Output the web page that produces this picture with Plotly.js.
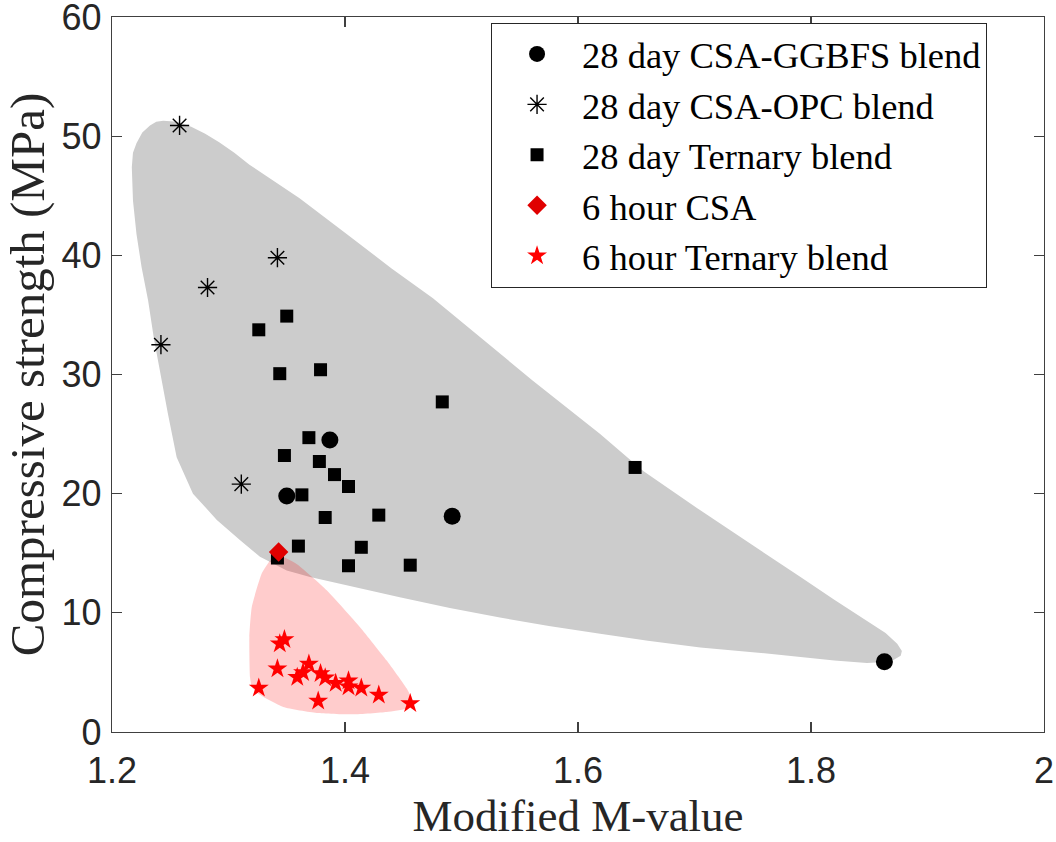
<!DOCTYPE html>
<html>
<head>
<meta charset="utf-8">
<script src="https://cdn.plot.ly/plotly-3.0.1.min.js"></script>
<style>html,body{margin:0;padding:0;background:#fff;}#chart{width:1056px;height:842px;}</style>
</head>
<body>
<div id="chart"></div>
<script>
// ---- data ----
const ggbfsX = [1.387, 1.350, 1.492, 1.863];
const ggbfsY = [24.5, 19.8, 18.1, 5.9];

const opcX = [1.258, 1.342, 1.282, 1.242, 1.311];
const opcY = [50.9, 39.8, 37.3, 32.5, 20.8];

const ternX = [1.350, 1.326, 1.344, 1.379, 1.4835, 1.369, 1.348, 1.378, 1.391, 1.403, 1.363, 1.383, 1.429, 1.360, 1.414, 1.403, 1.456, 1.342, 1.649];
const ternY = [34.9, 33.75, 30.07, 30.4, 27.7, 24.7, 23.2, 22.7, 21.6, 20.6, 19.9, 18.0, 18.2, 15.6, 15.5, 13.95, 14.0, 14.6, 22.2];

const csa6X = [1.343];
const csa6Y = [15.1];

const tern6X = [1.348, 1.344, 1.342, 1.326, 1.369, 1.364, 1.359, 1.379, 1.383, 1.392, 1.403, 1.403, 1.414, 1.429, 1.377, 1.456];
const tern6Y = [7.77, 7.4, 5.3, 3.7, 5.7, 5.0, 4.6, 4.9, 4.55, 4.1, 4.3, 3.8, 3.7, 3.1, 2.6, 2.4];

// region outlines (data coordinates, read along the shaded edges)
const greyX = [1.244, 1.256, 1.268, 1.280, 1.292, 1.305, 1.318, 1.340, 1.361, 1.400, 1.440, 1.4755, 1.518, 1.561, 1.619, 1.656, 1.705, 1.750, 1.791, 1.820, 1.848, 1.864, 1.874, 1.878, 1.877, 1.870, 1.860, 1.848, 1.820, 1.791, 1.750, 1.705, 1.660, 1.619, 1.575, 1.533, 1.490, 1.447, 1.400, 1.370, 1.350, 1.327, 1.310, 1.290, 1.2695, 1.2555, 1.248, 1.2427, 1.236, 1.231, 1.2254, 1.221, 1.218, 1.217, 1.218, 1.221, 1.226, 1.2326, 1.238];
const greyY = [51.3, 51.2, 50.8, 50.2, 49.5, 48.6, 47.6, 46.2, 44.8, 41.9, 38.9, 36.4, 33.0, 29.5, 25.0, 21.9, 18.6, 15.7, 13.0, 11.1, 9.36, 8.3, 7.4, 6.8, 6.4, 6.0, 5.85, 5.8, 6.0, 6.3, 6.7, 7.1, 7.65, 8.25, 8.9, 9.6, 10.4, 11.3, 12.3, 13.0, 13.55, 14.7, 16.1, 17.8, 20.0, 23.05, 26.7, 29.5, 33.0, 36.2, 39.0, 41.8, 44.6, 47.4, 48.6, 49.4, 50.3, 50.9, 51.2];

const pinkX = [1.3414, 1.3585, 1.3843, 1.4129, 1.4358, 1.453, 1.4586, 1.457, 1.453, 1.4358, 1.407, 1.3757, 1.347, 1.3256, 1.320, 1.3185, 1.3179, 1.320, 1.3285, 1.335];
const pinkY = [14.95, 14.1, 11.9, 8.8, 6.0, 3.64, 2.5, 2.15, 1.96, 1.68, 1.48, 1.6, 2.1, 3.2, 3.8, 4.6, 7.96, 10.5, 13.3, 14.3];

const xTicks = [1.2, 1.4, 1.6, 1.8, 2];
const xTickText = ['1.2', '1.4', '1.6', '1.8', '2'];
const yTicks = [0, 10, 20, 30, 40, 50, 60];

const names = ['28 day CSA-GGBFS blend', '28 day CSA-OPC blend', '28 day Ternary blend', '6 hour CSA', '6 hour Ternary blend'];

// ---- traces ----
const traces = [
  {x: greyX, y: greyY, type: 'scatter', mode: 'lines', fill: 'toself', fillcolor: '#cccccc',
   line: {width: 0}, showlegend: false, hoverinfo: 'skip'},
  {x: pinkX, y: pinkY, type: 'scatter', mode: 'lines', fill: 'toself', fillcolor: 'rgba(255,0,0,0.2)',
   line: {width: 0, shape: 'spline', smoothing: 0.5}, showlegend: false, hoverinfo: 'skip'},
  {x: ggbfsX, y: ggbfsY, type: 'scatter', mode: 'markers', name: names[0],
   marker: {symbol: 'circle', size: 17, color: '#000000'}},
  {x: opcX, y: opcY, type: 'scatter', mode: 'markers', name: names[1],
   marker: {symbol: 'asterisk-open', size: 16, color: '#000000', line: {width: 1.4, color: '#000000'}}},
  {x: ternX, y: ternY, type: 'scatter', mode: 'markers', name: names[2],
   marker: {symbol: 'square', size: 13, color: '#000000'}},
  {x: csa6X, y: csa6Y, type: 'scatter', mode: 'markers', name: names[3],
   marker: {symbol: 'diamond', size: 15, color: '#e00000'}},
  {x: tern6X, y: tern6Y, type: 'scatter', mode: 'markers', name: names[4],
   marker: {symbol: 'star', size: 15, color: '#ff0000'}}
];

const axisCommon = {
  showgrid: false, zeroline: false, showline: true, mirror: 'ticks',
  linecolor: '#404040', linewidth: 1.2, ticks: 'inside', ticklen: 10, tickwidth: 1.2, tickcolor: '#404040',
  ticklabeloverflow: 'allow',
  tickfont: {family: 'Liberation Sans, Arial, sans-serif', size: 36, color: '#262626'}
};

const layout = {
  width: 1056, height: 842,
  margin: {l: 112, r: 12, t: 17, b: 110},
  paper_bgcolor: '#ffffff', plot_bgcolor: '#ffffff',
  showlegend: true,
  xaxis: Object.assign({}, axisCommon, {
    range: [1.2, 2], tickvals: xTicks, ticktext: xTickText, ticklabelstandoff: 7,
    title: {text: 'Modified M-value', font: {family: 'Liberation Serif, Times New Roman, serif', size: 45, color: '#262626'}, standoff: 0}
  }),
  yaxis: Object.assign({}, axisCommon, {
    range: [0, 60], tickvals: yTicks, ticklabelstandoff: 2,
    title: {text: 'Compressive strength (MPa)', font: {family: 'Liberation Serif, Times New Roman, serif', size: 49, color: '#262626'}, standoff: 4}
  }),
  legend: {
    x: 0.4067, y: 0.992, xanchor: 'left', yanchor: 'top',
    bgcolor: '#ffffff', bordercolor: '#262626', borderwidth: 1,
    font: {family: 'Liberation Serif, Times New Roman, serif', size: 36.5, color: '#000000'},
    itemwidth: 80, tracegroupgap: 0
  }
};

Plotly.newPlot('chart', traces, layout, {displayModeBar: false, staticPlot: true});
</script>
</body>
</html>
